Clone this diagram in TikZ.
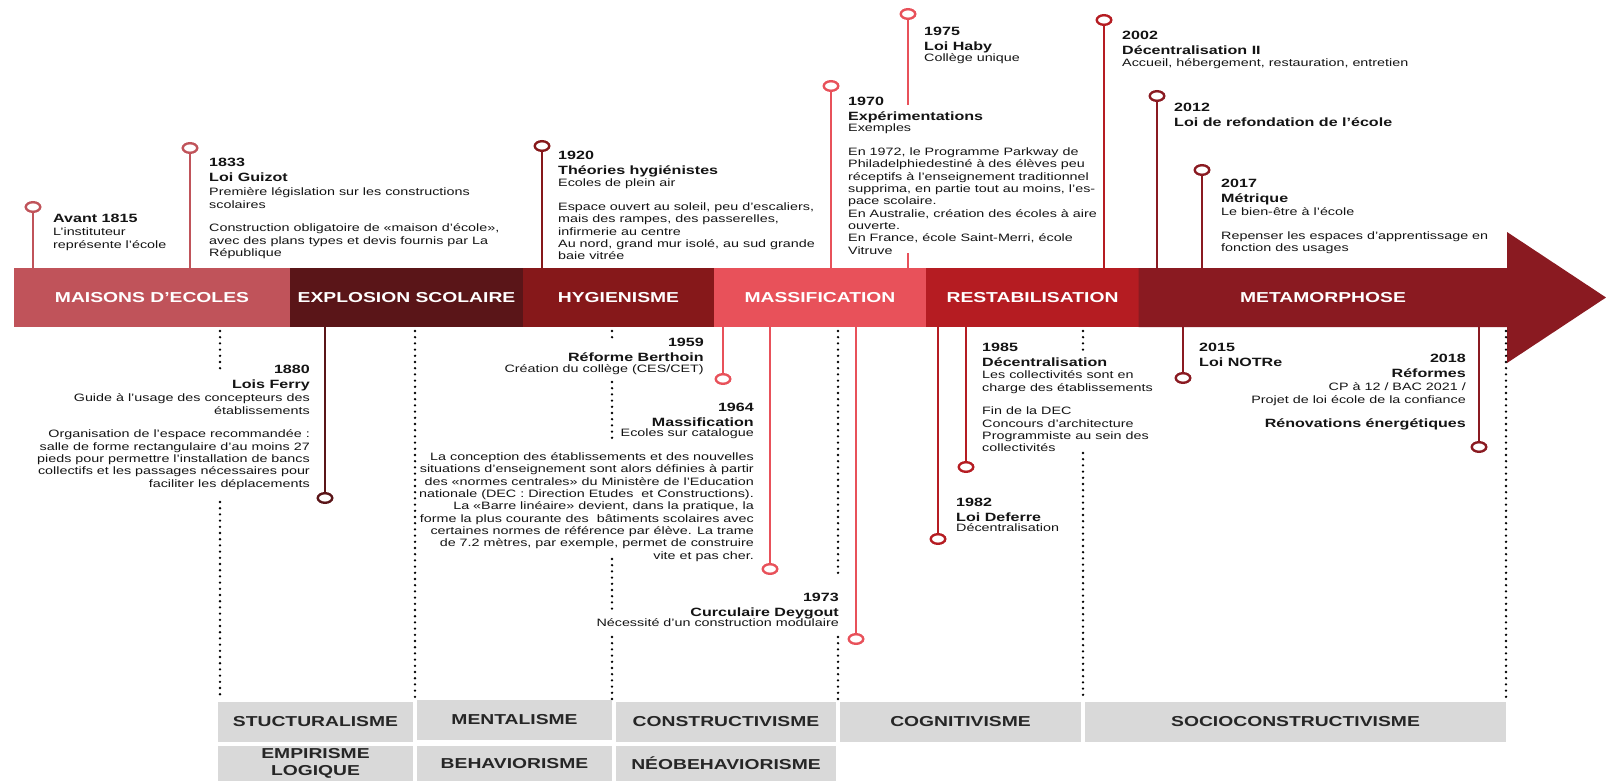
\documentclass[tikz,border=0pt]{standalone}
\usepackage{fontspec}
\setmainfont[FakeStretch=1.34]{Liberation Sans}
\usetikzlibrary{shapes.geometric}
\definecolor{cMai}{HTML}{C0535A}
\definecolor{cExp}{HTML}{5A1518}
\definecolor{cHyg}{HTML}{86181A}
\definecolor{cMas}{HTML}{E8515A}
\definecolor{cRes}{HTML}{B51C22}
\definecolor{cMet}{HTML}{8A1A21}
\definecolor{cBox}{HTML}{D9D9D9}
\definecolor{cTxt}{HTML}{141414}
\definecolor{cBoxTxt}{HTML}{262626}
\begin{document}
\begin{tikzpicture}[x=1pt,y=-1pt,
  band/.style={rectangle, inner sep=0pt, minimum height=59pt, text=white, font=\fontsize{14.4}{17}\selectfont\bfseries},
  gbox/.style={rectangle, fill=cBox, inner sep=0pt, text=cBoxTxt, font=\fontsize{14.4}{17}\selectfont\bfseries, align=center},
  ring/.style={ellipse, draw=#1, fill=white, line width=2.4pt, minimum width=14.5pt, minimum height=9.6pt, inner sep=0pt},
  stem/.style={draw=#1, line width=2.4pt},
  ttl/.style={inner sep=0pt, text=cTxt, font=\fontsize{12}{14.5}\selectfont\bfseries},
  bdy/.style={inner sep=0pt, text=cTxt, font=\fontsize{10.7}{12.3}\selectfont},
  dots/.style={line width=2.6pt, line cap=round, dash pattern=on 0pt off 6.2pt, draw=black},
]
\useasboundingbox (0,0) rectangle (1606,781);

% ---------- band ----------
\node[band, fill=cMai, minimum width=276.5pt] (bMai) at (152,297.5) {MAISONS D'ECOLES};
\node[band, fill=cExp, minimum width=233.5pt] (bExp) at (406.5,297.5) {EXPLOSION SCOLAIRE};
\node[band, fill=cHyg, minimum width=191.5pt] (bHyg) at (618.5,297.5) {HYGIENISME};
\node[band, fill=cMas, minimum width=212.5pt] (bMas) at (820,297.5) {MASSIFICATION};
\node[band, fill=cRes, minimum width=213.5pt] (bRes) at (1032.5,297.5) {RESTABILISATION};
\fill[cMet] (1138.5,268) -- (1507,268) -- (1507,232) -- (1606,297.5) -- (1507,363) -- (1507,327) -- (1138.5,327) -- cycle;
\node[band, minimum width=369pt] (bMet) at (1323,297.5) {METAMORPHOSE};

% ---------- dotted separators ----------
\draw[dots] (220,331) -- (220,369);
\draw[dots] (220,502) -- (220,700);
\draw[dots] (415,331) -- (415,700);
\draw[dots] (612,331) -- (612,343);
\draw[dots] (612,382) -- (612,442);
\draw[dots] (612,559) -- (612,609);
\draw[dots] (612,637) -- (612,700);
\draw[dots] (838,331) -- (838,577);
\draw[dots] (838,637) -- (838,700);
\draw[dots] (1083,331) -- (1083,353);
\draw[dots] (1083,453) -- (1083,700);
\draw[dots] (1506,331) -- (1506,700);

% ---------- stems above ----------
\coordinate (e1815) at (33,268);
\coordinate (e1833) at (190,268);
\coordinate (e1920) at (542,268);
\coordinate (e1970) at (831,268);
\coordinate (g1975a) at (908,105);
\coordinate (g1975b) at (908,253);
\coordinate (e1975) at (908,268);
\coordinate (e2002) at (1104,268);
\coordinate (e2012) at (1157,268);
\coordinate (e2017) at (1202,268);
\node[ring=cMai] (c1815) at (33,207) {};
\draw[stem=cMai] (c1815) -- (e1815);
\node[ring=cMai] (c1833) at (190,148) {};
\draw[stem=cMai] (c1833) -- (e1833);
\node[ring=cHyg] (c1920) at (542,146) {};
\draw[stem=cHyg] (c1920) -- (e1920);
\node[ring=cMas] (c1970) at (831,86) {};
\draw[stem=cMas] (c1970) -- (e1970);
\node[ring=cMas] (c1975) at (908,14) {};
\draw[stem=cMas] (c1975) -- (g1975a);
\draw[stem=cMas] (g1975b) -- (e1975);
\node[ring=cRes] (c2002) at (1104,20) {};
\draw[stem=cRes] (c2002) -- (e2002);
\node[ring=cMet] (c2012) at (1157,96) {};
\draw[stem=cMet] (c2012) -- (e2012);
\node[ring=cMet] (c2017) at (1202,170) {};
\draw[stem=cMet] (c2017) -- (e2017);

% ---------- stems below ----------
\coordinate (e1880) at (325,327);
\coordinate (e1959) at (723,327);
\coordinate (e1964) at (770,327);
\coordinate (e1973) at (856,327);
\coordinate (e1982) at (938,327);
\coordinate (e1985) at (966,327);
\coordinate (e2015) at (1183,327);
\coordinate (e2018) at (1479,327);
\node[ring=cExp] (c1880) at (325,498) {};
\draw[stem=cExp] (e1880) -- (c1880);
\node[ring=cMas] (c1959) at (723,379) {};
\draw[stem=cMas] (e1959) -- (c1959);
\node[ring=cMas] (c1964) at (770,569) {};
\draw[stem=cMas] (e1964) -- (c1964);
\node[ring=cMas] (c1973) at (856,639) {};
\draw[stem=cMas] (e1973) -- (c1973);
\node[ring=cRes] (c1982) at (938,539) {};
\draw[stem=cRes] (e1982) -- (c1982);
\node[ring=cRes] (c1985) at (966,467) {};
\draw[stem=cRes] (e1985) -- (c1985);
\node[ring=cMet] (c2015) at (1183,378) {};
\draw[stem=cMet] (e2015) -- (c2015);
\node[ring=cMet] (c2018) at (1479,447) {};
\draw[stem=cMet] (e2018) -- (c2018);

% ---------- texts above ----------
\node[ttl, anchor=north west, align=left] (t1815) at (53,212.2) {\strut Avant 1815};
\node[bdy, anchor=north west, align=left] (d1815) at (53,227) {\strut L'instituteur\\représente l'école};

\node[ttl, anchor=north west, align=left] (t1833) at (209,156.2) {\strut 1833\\Loi Guizot};
\node[bdy, anchor=north west, align=left] (d1833) at (209,187) {\strut Première législation sur les constructions\\scolaires\\[11.5pt]Construction obligatoire de «maison d'école»,\\avec des plans types et devis fournis par La\\République};

\node[ttl, anchor=north west, align=left] (t1920) at (558,149.2) {\strut 1920\\Théories hygiénistes};
\node[bdy, anchor=north west, align=left] (d1920) at (558,178) {\strut Ecoles de plein air\\[11.5pt]Espace ouvert au soleil, peu d'escaliers,\\mais des rampes, des passerelles,\\infirmerie au centre\\Au nord, grand mur isolé, au sud grande\\baie vitrée};

\node[ttl, anchor=north west, align=left] (t1970) at (848,95.2) {\strut 1970\\Expérimentations};
\node[bdy, anchor=north west, align=left] (d1970) at (848,123) {\strut Exemples\\[11.5pt]En 1972, le Programme Parkway de\\Philadelphiedestiné à des élèves peu\\réceptifs à l'enseignement traditionnel\\supprima, en partie tout au moins, l'es-\\pace scolaire.\\En Australie, création des écoles à aire\\ouverte.\\En France, école Saint-Merri, école\\Vitruve};

\node[ttl, anchor=north west, align=left] (t1975) at (924,25.2) {\strut 1975\\Loi Haby};
\node[bdy, anchor=north west, align=left] (d1975) at (924,53) {\strut Collège unique};

\node[ttl, anchor=north west, align=left] (t2002) at (1122,29.2) {\strut 2002\\Décentralisation II};
\node[bdy, anchor=north west, align=left] (d2002) at (1122,58) {\strut Accueil, hébergement, restauration, entretien};

\node[ttl, anchor=north west, align=left] (t2012) at (1174,101.2) {\strut 2012\\Loi de refondation de l'école};

\node[ttl, anchor=north west, align=left] (t2017) at (1221,177.2) {\strut 2017\\Métrique};
\node[bdy, anchor=north west, align=left] (d2017) at (1221,207) {\strut Le bien-être à l'école\\[11.5pt]Repenser les espaces d'apprentissage en\\fonction des usages};

% ---------- texts below ----------
\node[ttl, anchor=north east, align=right] (t1880) at (310,363.2) {\strut 1880\\Lois Ferry};
\node[bdy, anchor=north east, align=right] (d1880) at (310,393) {\strut Guide à l'usage des concepteurs des\\établissements\\[11.5pt]Organisation de l'espace recommandée :\\salle de forme rectangulaire d'au moins 27\\pieds pour permettre l'installation de bancs\\collectifs et les passages nécessaires pour\\faciliter les déplacements};

\node[ttl, anchor=north east, align=right] (t1959) at (704,336.2) {\strut 1959\\Réforme Berthoin};
\node[bdy, anchor=north east, align=right] (d1959) at (704,364) {\strut Création du collège (CES/CET)};

\node[ttl, anchor=north east, align=right] (t1964) at (754,401.2) {\strut 1964\\Massification};
\node[bdy, anchor=north east, align=right] (d1964) at (754,428) {\strut Ecoles sur catalogue\\[11.5pt]La conception des établissements et des nouvelles\\situations d'enseignement sont alors définies à partir\\des «normes centrales» du Ministère de l'Education\\nationale (DEC : Direction Etudes\ \ et Constructions).\\La «Barre linéaire» devient, dans la pratique, la\\forme la plus courante des\ \ bâtiments scolaires avec\\certaines normes de référence par élève. La trame\\de 7.2 mètres, par exemple, permet de construire\\vite et pas cher.};

\node[ttl, anchor=north east, align=right] (t1973) at (839,591.2) {\strut 1973\\Curculaire Deygout};
\node[bdy, anchor=north east, align=right] (d1973) at (839,618) {\strut Nécessité d'un construction modulaire};

\node[ttl, anchor=north west, align=left] (t1982) at (956,496.2) {\strut 1982\\Loi Deferre};
\node[bdy, anchor=north west, align=left] (d1982) at (956,523) {\strut Décentralisation};

\node[ttl, anchor=north west, align=left] (t1985) at (982,341.2) {\strut 1985\\Décentralisation};
\node[bdy, anchor=north west, align=left] (d1985) at (982,370) {\strut Les collectivités sont en\\charge des établissements\\[11.5pt]Fin de la DEC\\Concours d'architecture\\Programmiste au sein des\\collectivités};

\node[ttl, anchor=north west, align=left] (t2015) at (1199,341.2) {\strut 2015\\Loi NOTRe};

\node[ttl, anchor=north east, align=right] (t2018) at (1466,352.2) {\strut 2018\\Réformes};
\node[bdy, anchor=north east, align=right] (d2018) at (1466,382) {\strut CP à 12 / BAC 2021 /\\Projet de loi école de la confiance};
\node[ttl, anchor=north east, align=right] (r2018) at (1466,417.2) {\strut Rénovations énergétiques};

% ---------- grey boxes ----------
\node[gbox, minimum width=195pt, minimum height=40pt] (gStu) at (315.5,722) {STUCTURALISME};
\node[gbox, minimum width=195pt, minimum height=40pt] (gMen) at (514.5,720) {MENTALISME};
\node[gbox, minimum width=220pt, minimum height=40pt] (gCon) at (726,722) {CONSTRUCTIVISME};
\node[gbox, minimum width=241pt, minimum height=40pt] (gCog) at (960.5,722) {COGNITIVISME};
\node[gbox, minimum width=421pt, minimum height=40pt] (gSoc) at (1295.5,722) {SOCIOCONSTRUCTIVISME};
\node[gbox, minimum width=195pt, minimum height=35pt] (gEmp) at (315.5,763.5) {EMPIRISME\\LOGIQUE};
\node[gbox, minimum width=195pt, minimum height=35pt] (gBeh) at (514.5,763.5) {BEHAVIORISME};
\node[gbox, minimum width=220pt, minimum height=35pt] (gNeo) at (726,763.5) {NÉOBEHAVIORISME};
\end{tikzpicture}
\end{document}
